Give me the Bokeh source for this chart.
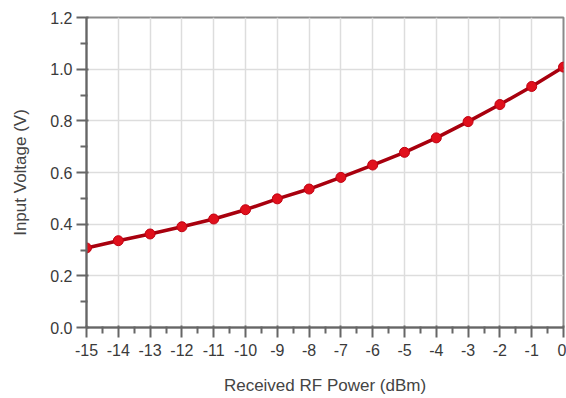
from bokeh.plotting import figure
from bokeh.models import FixedTicker, Range1d
from bokeh.embed import file_html
from bokeh.resources import INLINE

power_dbm = [-15, -14, -13, -12, -11, -10, -9, -8, -7, -6, -5, -4, -3, -2, -1, 0]
voltage_v = [0.308, 0.336, 0.362, 0.390, 0.420, 0.456, 0.498, 0.536, 0.581,
             0.629, 0.678, 0.734, 0.797, 0.863, 0.933, 1.008]

x_ticks = list(range(-15, 1))
x_minor = [t + 0.5 for t in range(-15, 0)]
y_ticks = [0.0, 0.2, 0.4, 0.6, 0.8, 1.0, 1.2]
y_minor = [0.1, 0.3, 0.5, 0.7, 0.9, 1.1]

p = figure(width=566, height=398, output_backend="svg", toolbar_location=None,
           x_range=Range1d(-15, 0), y_range=Range1d(0, 1.2),
           min_border_left=86, min_border_right=3, min_border_top=17, min_border_bottom=71)

p.outline_line_color = "#8a8a8a"
p.outline_line_width = 2

p.line(power_dbm, voltage_v, line_color="#a8000e", line_width=3.5)
p.scatter(power_dbm, voltage_v, size=10, fill_color="#e0101c", line_color="#c00010", line_width=1)

for ax in (p.xaxis[0], p.yaxis[0]):
    ax.axis_line_color = "#666666"
    ax.axis_line_width = 2
    ax.major_tick_line_color = "#666666"
    ax.major_tick_line_width = 2
    ax.minor_tick_line_color = "#666666"
    ax.minor_tick_line_width = 2
    ax.major_tick_in = 2
    ax.major_tick_out = 10
    ax.minor_tick_in = 1
    ax.minor_tick_out = 6
    ax.major_label_text_font = "Liberation Sans"
    ax.major_label_text_font_size = "16px"
    ax.major_label_text_color = "#3a3a3a"
    ax.axis_label_text_font = "Liberation Sans"
    ax.axis_label_text_font_size = "17px"
    ax.axis_label_text_font_style = "normal"
    ax.axis_label_text_color = "#444444"

p.xaxis.ticker = FixedTicker(ticks=x_ticks, minor_ticks=x_minor)
p.yaxis.ticker = FixedTicker(ticks=y_ticks, minor_ticks=y_minor)
p.xaxis.major_label_overrides = {t: str(t) for t in x_ticks}
p.yaxis.major_label_overrides = {t: f"{t:.1f}" for t in y_ticks}
p.xaxis.axis_label = "Received RF Power (dBm)"
p.yaxis.axis_label = "Input Voltage (V)"
p.xaxis.major_label_standoff = 6
p.yaxis.major_label_standoff = 4
p.xaxis.axis_label_standoff = 17
p.yaxis.axis_label_standoff = 17

p.xgrid.ticker = FixedTicker(ticks=x_ticks)
p.ygrid.ticker = FixedTicker(ticks=y_ticks)
p.grid.grid_line_color = "#dddddd"
p.grid.grid_line_width = 1.5

open("out.html", "w").write(file_html(p, INLINE))
